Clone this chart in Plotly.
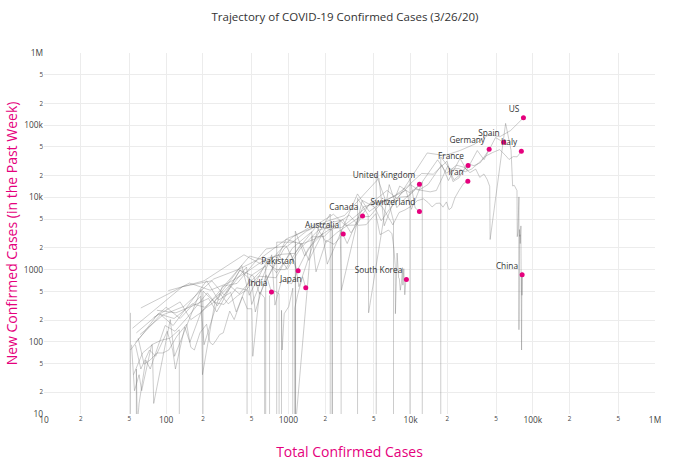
import numpy as np
import plotly.graph_objects as go

# Cumulative confirmed cases per country (one value per day, ending 3/26/20).
# The first value is the day before the first plotted point.
COUNTRIES = ["US", "Spain", "Italy", "Germany", "France", "Iran", "United Kingdom",
             "Switzerland", "Canada", "Australia", "Pakistan", "Japan", "India",
             "South Korea", "China"]

TOTALS_US = [15, 51, 51, 57, 58, 60, 68, 74, 98, 118, 149, 217, 262, 402, 518, 583, 959,
             1281, 1663, 2179, 2727, 3499, 4632, 6421, 7786, 13680, 19101, 25493, 33276,
             43847, 53740, 65778, 83836]
TOTALS_SPAIN = [45, 84, 120, 165, 222, 259, 400, 500, 673, 1073, 1695, 2277, 2277, 5232, 6391,
                7798, 9942, 11748, 13910, 17963, 20410, 25374, 28768, 35136, 39885, 49515, 57786]
TOTALS_ITALY = [20, 62, 155, 229, 322, 453, 655, 888, 1128, 1694, 2036, 2502, 3089, 3858, 4636,
                5883, 7375, 9172, 10149, 12462, 12462, 17660, 21157, 24747, 27980, 31506, 35713,
                41035, 47021, 53578, 59138, 63927, 69176, 74386, 80589]
TOTALS_GERMANY = [48, 79, 130, 159, 196, 262, 482, 670, 799, 1040, 1176, 1457, 1908, 2078, 3675,
                  4585, 5795, 7272, 9257, 12327, 15320, 19848, 22213, 24873, 29056, 32986, 37323,
                  43938]
TOTALS_FRANCE = [38, 57, 100, 130, 191, 204, 288, 380, 656, 959, 1136, 1219, 1794, 2293, 2293,
                 3681, 4496, 4532, 6683, 7715, 9124, 10970, 12758, 14463, 16243, 20123, 22622,
                 25600, 29551]
TOTALS_IRAN = [43, 61, 95, 139, 245, 388, 593, 978, 1501, 2336, 2922, 3513, 4747, 5823, 6566, 7161,
               8042, 9000, 10075, 11364, 12729, 13938, 14991, 16169, 17361, 18407, 19644, 20610,
               21638, 23049, 24811, 27017, 29406]
TOTALS_UK = [40, 51, 86, 116, 164, 207, 274, 322, 384, 459, 459, 802, 1144, 1145, 1551, 1960, 2642,
             2716, 4014, 5067, 5745, 6726, 8164, 9640, 11812]
TOTALS_SWITZERLAND = [42, 56, 90, 114, 214, 268, 337, 374, 491, 652, 652, 1139, 1359, 2200, 2200,
                      2700, 3028, 4075, 5294, 6575, 7245, 7245, 9877, 10897, 11811]
TOTALS_CANADA = [49, 54, 64, 77, 79, 108, 117, 193, 198, 252, 415, 478, 657, 800, 943, 1277, 1469,
                 2088, 2790, 3251, 4042]
TOTALS_AUSTRALIA = [39, 52, 55, 60, 63, 76, 91, 107, 128, 128, 200, 250, 297, 377, 452, 568, 681,
                    791, 1071, 1549, 1682, 2044, 2364, 2810]
TOTALS_PAKISTAN = [31, 53, 136, 236, 299, 454, 501, 730, 776, 875, 972, 1063, 1201]
TOTALS_JAPAN = [43, 59, 66, 74, 84, 94, 105, 122, 147, 159, 170, 189, 214, 228, 241, 256, 274, 293,
                331, 360, 420, 461, 502, 511, 581, 639, 639, 701, 773, 839, 839, 878, 889, 924, 963,
                1007, 1086, 1086, 1128, 1193, 1307, 1387]
TOTALS_INDIA = [43, 56, 62, 73, 82, 102, 113, 119, 142, 156, 194, 244, 330, 396, 499, 536, 657, 727]
TOTALS_SOUTH_KOREA = [31, 104, 204, 433, 602, 833, 977, 1261, 1766, 2337, 3150, 3736, 4335, 5186,
                      5621, 6088, 6593, 7041, 7314, 7478, 7513, 7755, 7869, 7979, 8086, 8162, 8236,
                      8320, 8413, 8565, 8652, 8799, 8897, 8961, 9037, 9137, 9241]
TOTALS_CHINA = [548, 643, 920, 1406, 2075, 2877, 5509, 6087, 8141, 9802, 11891, 16630, 19716, 23707,
                27440, 30587, 34110, 36814, 39829, 42354, 44386, 44759, 59895, 66358, 68413, 70513,
                72434, 74211, 74619, 75077, 75550, 77001, 77022, 77241, 77754, 78166, 78600, 78928,
                79356, 79932, 80136, 80261, 80386, 80537, 80690, 80770, 80823, 80860, 80887, 80921,
                80932, 80945, 80977, 81003, 81033, 81058, 81102, 81156, 81250, 81305, 81435, 81498,
                81591, 81661, 81782]

TOTALS = {
    "US": TOTALS_US, "Spain": TOTALS_SPAIN, "Italy": TOTALS_ITALY, "Germany": TOTALS_GERMANY,
    "France": TOTALS_FRANCE, "Iran": TOTALS_IRAN, "United Kingdom": TOTALS_UK,
    "Switzerland": TOTALS_SWITZERLAND, "Canada": TOTALS_CANADA, "Australia": TOTALS_AUSTRALIA,
    "Pakistan": TOTALS_PAKISTAN, "Japan": TOTALS_JAPAN, "India": TOTALS_INDIA,
    "South Korea": TOTALS_SOUTH_KOREA, "China": TOTALS_CHINA,
}
DAYS_PER_WEEK = 7  # daily increase expressed as a weekly rate

PINK = "#E5007D"
LINE_COLOR = "rgba(115,115,115,0.36)"

fig = go.Figure()
end_x, end_y = [], []
for name in COUNTRIES:
    tot = np.array(TOTALS[name], dtype=float)
    weekly = np.diff(tot) * DAYS_PER_WEEK
    fig.add_trace(go.Scatter(
        x=tot[1:], y=weekly, mode="lines", name=name,
        line=dict(color=LINE_COLOR, width=1), showlegend=False, hoverinfo="skip",
    ))
    end_x.append(tot[-1])
    end_y.append(weekly[-1])

fig.add_trace(go.Scatter(
    x=end_x, y=end_y, mode="markers+text", text=COUNTRIES,
    textposition="top left", textfont=dict(size=8.3, color="#333", family="Open Sans"),
    marker=dict(color=PINK, size=5), showlegend=False, cliponaxis=False,
))

axis_common = dict(
    type="log", range=[1, 6], dtick="D2", showgrid=True, gridcolor="#ececec", gridwidth=1,
    zeroline=False, showline=False, ticks="", automargin=False,
    tickfont=dict(size=8.4, color="#444", family="Open Sans"),
)
fig.update_xaxes(**axis_common,
                 title=dict(text="Total Confirmed Cases", standoff=22,
                            font=dict(size=14, color=PINK, family="Open Sans")))
fig.update_yaxes(**axis_common,
                 title=dict(text="New Confirmed Cases (in the Past Week)", standoff=2,
                            font=dict(size=14, color=PINK, family="Open Sans")))

W, H = 690, 465
fig.update_layout(
    width=W, height=H,
    margin=dict(l=44, r=35, t=53, b=51),
    paper_bgcolor="white", plot_bgcolor="white",
    font=dict(family="Open Sans", color="#444"),
    title=dict(text="Trajectory of COVID-19 Confirmed Cases (3/26/20)", x=0.5,
               xanchor="center", xref="container", y=1 - 17 / H, yanchor="middle",
               yref="container", font=dict(size=11.5, color="#333", family="Open Sans")),
    showlegend=False,
)

# Remove the default page margin so the figure sits at the window's top-left corner.
fig.write_html("out.html", config={"displayModeBar": False},
               post_script="document.body.style.margin='0px';")
